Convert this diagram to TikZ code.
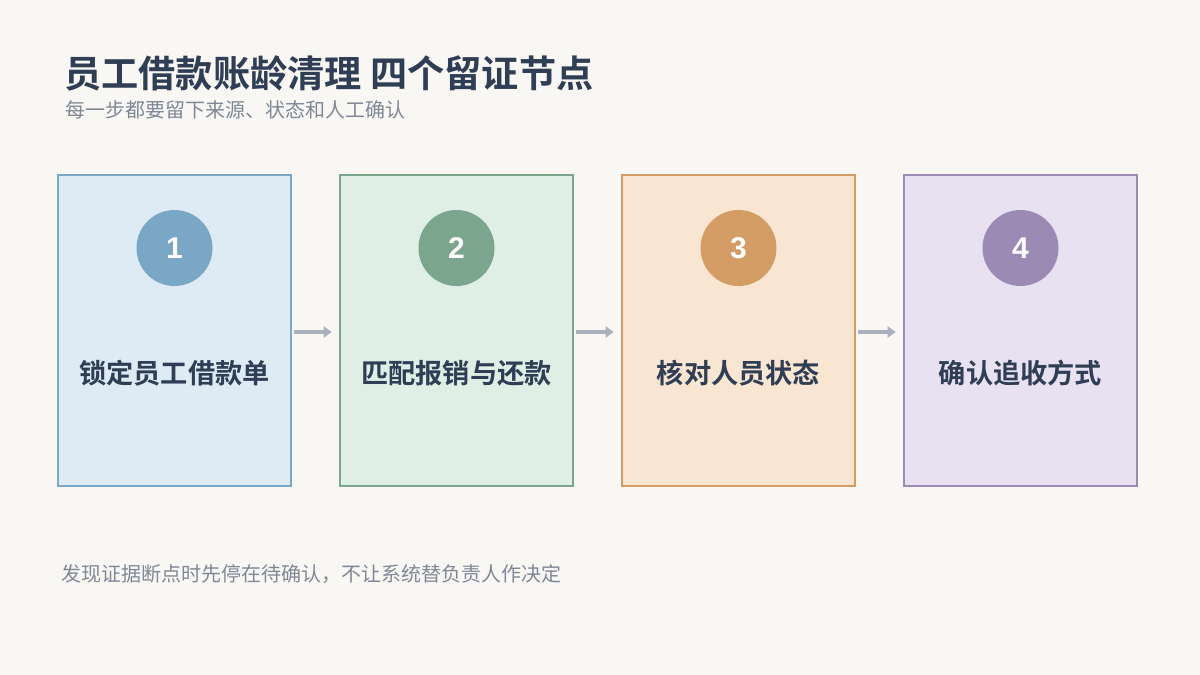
\documentclass[tikz,border=0pt]{standalone}
\usepackage{fontspec}
\setmainfont{Liberation Sans}
\newfontfamily\cjk{Noto Sans CJK SC}
\newfontfamily\cjkb{Noto Sans CJK SC Bold}
\usetikzlibrary{arrows.meta,calc}
\definecolor{bgc}{HTML}{F9F7F4}
\definecolor{titlec}{HTML}{2F3E55}
\definecolor{subc}{HTML}{7F8896}
\definecolor{arrowc}{HTML}{A9B1BC}
\definecolor{fillA}{HTML}{DEEAF4}\definecolor{lineA}{HTML}{7BA7C7}
\definecolor{fillB}{HTML}{E0EFE6}\definecolor{lineB}{HTML}{7BA58C}
\definecolor{fillC}{HTML}{F8E6D3}\definecolor{lineC}{HTML}{D49D66}
\definecolor{fillD}{HTML}{E8E1F2}\definecolor{lineD}{HTML}{9B8AB4}
\tikzset{
  stepbox/.style={draw, line width=2.7pt, minimum width=233pt, minimum height=311pt, inner sep=0pt},
  numdisc/.style={circle, minimum size=76pt, inner sep=0pt, text=white, font=\fontsize{30}{32}\selectfont\bfseries},
  boxlabel/.style={inner sep=0pt, text=titlec, font=\fontsize{27.2}{30}\selectfont\cjkb},
  flowarrow/.style={draw=arrowc, line width=4pt, -{Triangle[length=8pt,width=11pt]}},
}
\begin{document}
\begin{tikzpicture}[x=1pt,y=-1pt]
\useasboundingbox[fill=bgc] (0,0) rectangle (1200,675);
\node[anchor=west, inner sep=0pt, text=titlec, font=\fontsize{37.2}{42}\selectfont\cjkb] (title) at (64,73) {员工借款账龄清理 四个留证节点};
\node[anchor=west, inner sep=0pt, text=subc, font=\fontsize{20}{24}\selectfont\cjk] (sub) at (65,110) {每一步都要留下来源、状态和人工确认};
\foreach \i/\cx/\fc/\lc/\txt in {1/174.5/fillA/lineA/锁定员工借款单, 2/456.5/fillB/lineB/匹配报销与还款, 3/738.5/fillC/lineC/核对人员状态, 4/1020.5/fillD/lineD/确认追收方式}{
  \node[stepbox, fill=\fc, draw=\lc] (box\i) at (\cx,330.5) {};
  \node[numdisc, fill=\lc] (num\i) at (\cx,248) {\i};
  \node[boxlabel] (lab\i) at (\cx,373) {\txt};
}
\foreach \a/\b in {1/2,2/3,3/4}{
  \draw[flowarrow] ($(box\a.east)+(2,1.5)$) -- ($(box\b.west)+(-7,1.5)$);
}
\node[anchor=west, inner sep=0pt, text=subc, font=\fontsize{20}{24}\selectfont\cjk] (foot) at (61,574) {发现证据断点时先停在待确认，不让系统替负责人作决定};
\end{tikzpicture}
\end{document}
